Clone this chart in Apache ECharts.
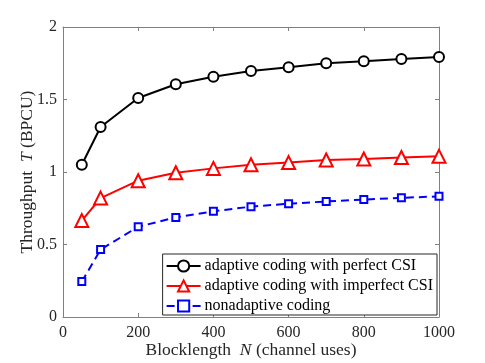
<!DOCTYPE html>
<html><head><meta charset="utf-8">
<script src="https://cdn.jsdelivr.net/npm/echarts@6/dist/echarts.min.js"></script>
<style>html,body{margin:0;padding:0;background:#fff}#c{width:485px;height:363px}</style>
</head><body><div id="c"></div>
<script>
const blocklengths = [50, 100, 200, 300, 400, 500, 600, 700, 800, 900, 1000];
const perfectCSI = [1.05, 1.31, 1.51, 1.605, 1.657, 1.697, 1.722, 1.75, 1.763, 1.779, 1.793];
const imperfectCSI = [0.665, 0.82, 0.94, 0.995, 1.025, 1.05, 1.065, 1.083, 1.09, 1.1, 1.108];
const nonadaptive = [0.244, 0.465, 0.622, 0.687, 0.729, 0.761, 0.781, 0.797, 0.81, 0.822, 0.832];
const seriesNames = ['adaptive coding with perfect CSI', 'adaptive coding with imperfect CSI', 'nonadaptive coding'];
const xTicks = [0, 200, 400, 600, 800, 1000];
const yTicks = [0, 0.5, 1, 1.5, 2];

const font = '"Liberation Serif", "Times New Roman", serif';
const axisGray = '#808080';
const textCol = '#262626';
function pairs(ys){ return blocklengths.map((x,i)=>[x, ys[i]]); }
const baseAxis = {
  axisLine:{show:true, onZero:false, lineStyle:{color:axisGray, width:1}},
  axisTick:{show:true, inside:true, length:4, lineStyle:{color:axisGray}},
  splitLine:{show:false},
};
const nameRich = {n:{fontFamily:font, fontSize:17.5, color:textCol}, i:{fontFamily:font, fontSize:17.5, fontStyle:'italic', color:textCol}};
const chart = echarts.init(document.getElementById('c'));
chart.setOption({
  animation:false,
  backgroundColor:'#fff',
  grid:{left:63, right:46, top:27, bottom:46, containLabel:false, outerBoundsMode:'none'},
  xAxis:[
    Object.assign({}, baseAxis, {type:'value', position:'bottom', min:xTicks[0], max:xTicks[xTicks.length-1], interval:200,
      axisLabel:{color:textCol, fontFamily:font, fontSize:16, margin:8, formatter:v=>String(v)},
      name:'{n|Blocklength  }{i|N}{n| (channel uses)}', nameLocation:'middle', nameGap:24, nameMoveOverlap:false,
      nameTextStyle:{rich:nameRich, verticalAlign:'top'}}),
    Object.assign({}, baseAxis, {type:'value', position:'top', min:0, max:1000, interval:200, axisLabel:{show:false}})
  ],
  yAxis:[
    Object.assign({}, baseAxis, {type:'value', position:'left', min:yTicks[0], max:yTicks[yTicks.length-1], interval:0.5,
      axisLabel:{color:textCol, fontFamily:font, fontSize:16, margin:6, formatter:v=>String(v)},
      name:'{n|Throughput  }{i|T}{n| (BPCU)}', nameLocation:'middle', nameGap:27, nameRotate:90, nameMoveOverlap:false,
      nameTextStyle:{rich:nameRich, verticalAlign:'bottom'}}),
    Object.assign({}, baseAxis, {type:'value', position:'right', min:0, max:2, interval:0.5, axisLabel:{show:false}})
  ],
  legend:{
    orient:'vertical', right:48, bottom:48, backgroundColor:'#fff', borderColor:'#262626', borderWidth:1,
    padding:[4,4,1,3], itemGap:4, itemWidth:34, itemHeight:14,
    textStyle:{fontFamily:font, fontSize:16, color:'#000', padding:[0,0,0,-1]},
    data:seriesNames
  },
  series:[
    {name:seriesNames[0], type:'line', data:pairs(perfectCSI), symbol:'emptyCircle', symbolSize:10,
      lineStyle:{color:'#000', width:2}, itemStyle:{color:'#000', borderWidth:2}},
    {name:seriesNames[1], type:'line', data:pairs(imperfectCSI), symbol:'emptyTriangle', symbolSize:13,
      lineStyle:{color:'#ff0000', width:2}, itemStyle:{color:'#ff0000', borderWidth:2}},
    {name:seriesNames[2], type:'line', data:pairs(nonadaptive), symbol:'emptyRect', symbolSize:7,
      lineStyle:{color:'#0000ff', width:2, type:[8,5]}, itemStyle:{color:'#0000ff', borderWidth:2}}
  ]
});
</script></body></html>
